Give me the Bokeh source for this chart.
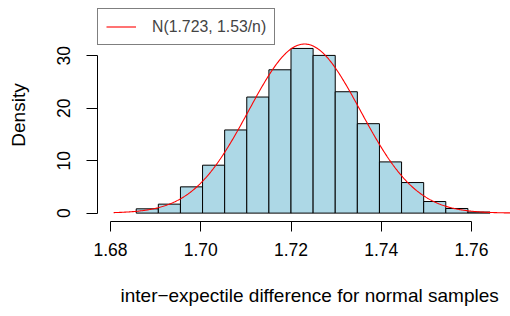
import numpy as np
from bokeh.plotting import figure
from bokeh.models import FixedTicker, Title, Legend, LegendItem
from bokeh.embed import file_html
from bokeh.resources import INLINE

# ---- data ----
bin_edges = [1.6857, 1.6906, 1.6955, 1.7004, 1.7053, 1.7102, 1.7151, 1.7200,
             1.7249, 1.7298, 1.7347, 1.7396, 1.7445, 1.7494, 1.7543, 1.7592, 1.7641]
densities = [0.82, 1.71, 5.01, 9.14, 15.86, 22.14, 27.34, 31.41,
             30.08, 23.15, 17.06, 9.77, 5.83, 2.21, 0.88, 0.20]
x_ticks = [1.68, 1.70, 1.72, 1.74, 1.76]
x_tick_labels = ["1.68", "1.70", "1.72", "1.74", "1.76"]
y_ticks = [0, 10, 20, 30]
y_tick_labels = ["0", "10", "20", "30"]
norm_mean = 1.723
norm_var_times_n = 1.53
n_samples = 10000
curve_from, curve_to = 1.6807, 1.775
legend_text = "N(1.723, 1.53/n)"
x_title = "inter\u2212expectile difference for normal samples"
y_title = "Density"

FONT = "Liberation Sans"

p = figure(width=510, height=316, frame_width=413, frame_height=213,
           x_range=(1.67712, 1.76864), y_range=(-1.6, 39.03),
           output_backend="svg", toolbar_location=None,
           min_border_left=97, min_border_right=0, min_border_top=8, min_border_bottom=95)
p.outline_line_color = None
p.grid.visible = False
p.background_fill_color = "white"
p.border_fill_color = "white"

p.quad(left=bin_edges[:-1], right=bin_edges[1:], bottom=0, top=densities,
       fill_color="#ADD8E6", line_color="black", line_width=1)

sd = np.sqrt(norm_var_times_n / n_samples)
xs = np.linspace(curve_from, curve_to, 500)
ys = np.exp(-0.5 * ((xs - norm_mean) / sd) ** 2) / (sd * np.sqrt(2 * np.pi))
r = p.line(xs, ys, line_color="red", line_width=1.1)

legend = Legend(items=[LegendItem(label=legend_text, renderers=[r])],
                location="top_left", margin=0, padding=8,
                glyph_width=30, glyph_height=19, label_height=19, label_standoff=16,
                label_text_font=FONT, label_text_font_size="15.8px",
                border_line_color="black", border_line_width=1,
                background_fill_alpha=1.0)
p.add_layout(legend, "center")

xa = p.xaxis[0]
xa.ticker = FixedTicker(ticks=x_ticks)
xa.major_label_overrides = dict(zip(x_ticks, x_tick_labels))
xa.bounds = (x_ticks[0], x_ticks[-1])
xa.minor_tick_line_color = None
xa.major_tick_in = 0
xa.major_tick_out = 10
xa.major_label_standoff = 11
xa.major_label_text_font = FONT
xa.major_label_text_font_size = "17.5px"
xa.major_label_text_color = "black"
xa.axis_line_color = "black"
xa.major_tick_line_color = "black"

ya = p.yaxis[0]
ya.ticker = FixedTicker(ticks=y_ticks)
ya.major_label_overrides = dict(zip(y_ticks, y_tick_labels))
ya.bounds = (y_ticks[0], y_ticks[-1])
ya.minor_tick_line_color = None
ya.major_tick_in = 0
ya.major_tick_out = 11
ya.major_label_orientation = "vertical"
ya.major_label_standoff = 16
ya.major_label_text_font = FONT
ya.major_label_text_font_size = "17.5px"
ya.major_label_text_color = "black"
ya.axis_line_color = "black"
ya.major_tick_line_color = "black"
ya.axis_label = y_title
ya.axis_label_text_font = FONT
ya.axis_label_text_font_size = "19px"
ya.axis_label_text_font_style = "normal"
ya.axis_label_text_color = "black"
ya.axis_label_standoff = 26

p.add_layout(Title(text=x_title, align="left", offset=23, standoff=49,
                   text_font=FONT, text_font_size="19px", text_font_style="normal",
                   text_color="black"), "below")

open("out.html", "w").write(file_html(p, INLINE))
